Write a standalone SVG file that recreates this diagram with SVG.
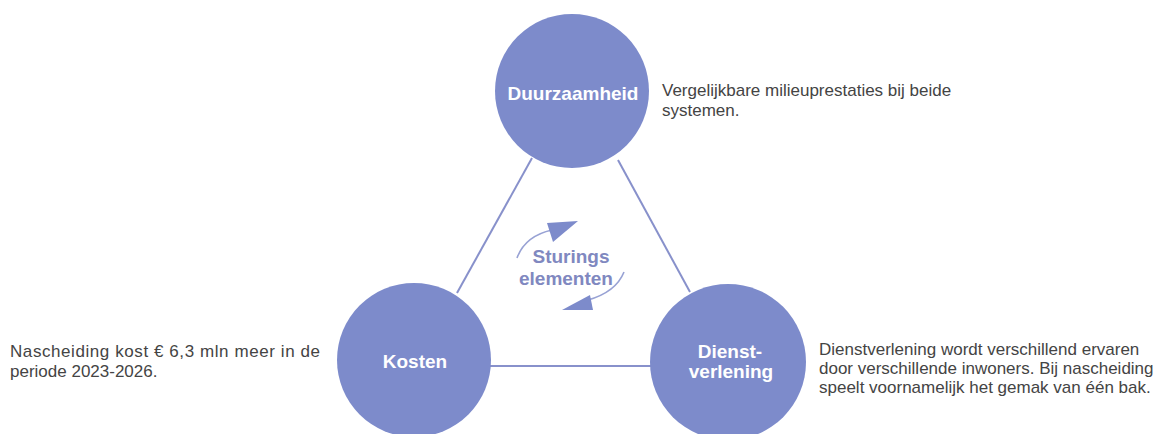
<svg xmlns="http://www.w3.org/2000/svg" width="1161" height="434" viewBox="0 0 1161 434">
<style>
.node{fill:#7d8bcb}
.lbl{font-family:"Liberation Sans",Arial,sans-serif;font-weight:bold;font-size:19px;fill:#ffffff;text-anchor:middle}
.txt{font-family:"Liberation Sans",Arial,sans-serif;font-size:17px;fill:#444444}
.edge{stroke:#8891cb;stroke-width:2;fill:none}
.mid{font-family:"Liberation Sans",Arial,sans-serif;font-weight:bold;font-size:19px;fill:#8088c0;text-anchor:middle}
.arc{stroke:#98a2d4;stroke-width:1.6;fill:none}
.head{fill:#7d8bcb}
</style>
<rect width="1161" height="434" fill="#ffffff"/>
<g id="connectors">
<line class="edge" x1="532" y1="158" x2="457" y2="293"/>
<line class="edge" x1="618" y1="160" x2="690" y2="292"/>
<line class="edge" x1="480" y1="366" x2="660" y2="366"/>
</g>
<g id="sturing">
<path class="arc" d="M517,258 Q525,236 552,230"/>
<polygon class="head" points="547,223 578,221 553,242"/>
<path class="arc" d="M624,272 Q616,292 588,300"/>
<polygon class="head" points="590,295 562,310 593,310"/>
<text class="mid" x="571" y="263">Sturings</text>
<text class="mid" x="566" y="285">elementen</text>
</g>
<g id="duurzaamheid">
<circle class="node" cx="572" cy="91" r="77"/>
<text class="lbl" x="573" y="100">Duurzaamheid</text>
</g>
<g id="kosten">
<circle class="node" cx="414" cy="360" r="77"/>
<text class="lbl" x="415" y="368">Kosten</text>
</g>
<g id="dienstverlening">
<circle class="node" cx="728" cy="362" r="78"/>
<text class="lbl" x="730" y="358">Dienst-</text>
<text class="lbl" x="731" y="378">verlening</text>
</g>
<g id="notes">
<text class="txt" x="662" y="96">Vergelijkbare milieuprestaties bij beide</text>
<text class="txt" x="662" y="116">systemen.</text>
<text class="txt" x="10" y="357" textLength="310">Nascheiding kost € 6,3 mln meer in de</text>
<text class="txt" x="10" y="377">periode 2023-2026.</text>
<text class="txt" x="819" y="355">Dienstverlening wordt verschillend ervaren</text>
<text class="txt" x="819" y="374">door verschillende inwoners. Bij nascheiding</text>
<text class="txt" x="819" y="393">speelt voornamelijk het gemak van één bak.</text>
</g>
</svg>
